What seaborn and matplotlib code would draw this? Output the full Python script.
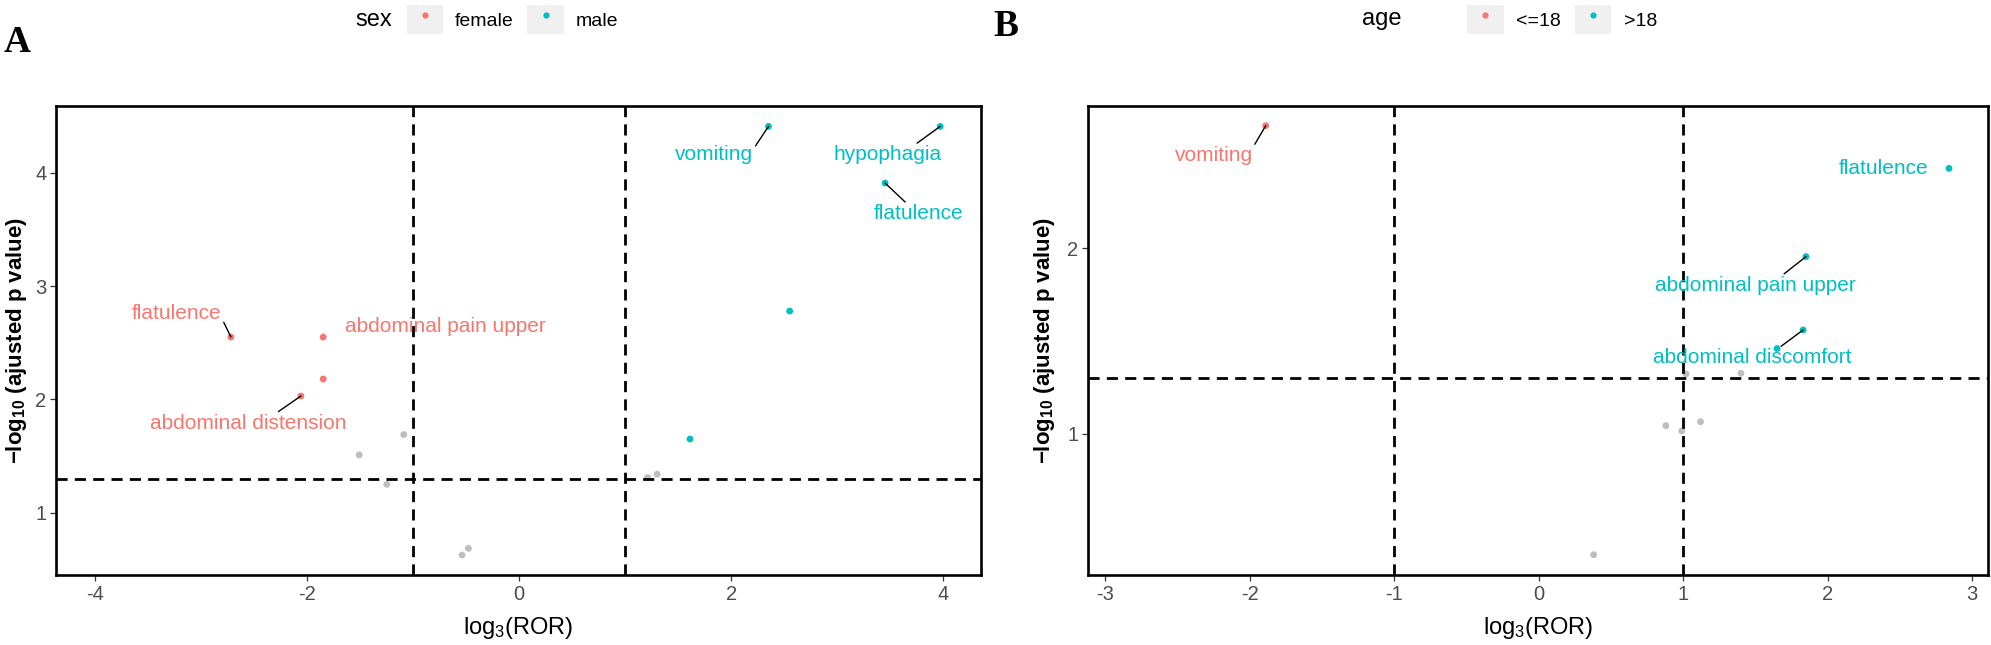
import pandas as pd
import matplotlib
matplotlib.use("Agg")
import matplotlib.pyplot as plt
import seaborn as sns
from matplotlib.patches import Rectangle
from matplotlib.lines import Line2D
from matplotlib.legend_handler import HandlerTuple

# ---- panel A: stratified by sex ----
sex_x = [-2.72, -1.85, -1.85, -2.06, -1.09, -1.51, -1.25, -0.48, -0.54,
         1.21, 1.30, 1.61, 2.55, 2.35, 3.97, 3.45]
sex_y = [2.55, 2.55, 2.18, 2.03, 1.69, 1.51, 1.25, 0.685, 0.626,
         1.31, 1.34, 1.65, 2.78, 4.41, 4.41, 3.91]
sex_group = ["female", "female", "female", "female", "ns", "ns", "ns", "ns", "ns",
             "ns", "ns", "male", "male", "male", "male", "male"]
sex_term = ["flatulence", "abdominal pain upper", "", "abdominal distension", "", "", "", "", "",
            "", "", "", "", "vomiting", "hypophagia", "flatulence"]

# ---- panel B: stratified by age ----
age_x = [-1.89, 2.84, 1.85, 1.83, 1.65, 1.02, 1.40, 0.88, 0.99, 1.12, 0.38]
age_y = [2.66, 2.43, 1.955, 1.56, 1.46, 1.323, 1.327, 1.045, 1.016, 1.066, 0.35]
age_group = ["<=18", ">18", ">18", ">18", ">18", "ns", "ns", "ns", "ns", "ns", "ns"]
age_term = ["vomiting", "flatulence", "abdominal pain upper", "abdominal discomfort",
            "", "", "", "", "", "", ""]

# thresholds
fc_cut = 1
p_cut = 1.301

# label placement (repel-like): index -> (dx, dy, relpos or None for no segment)
sex_label_pos = {0: (-0.51, 0.21, (1.0, 0.25)), 1: (1.15, 0.09, None),
                 3: (-0.50, -0.24, (0.64, 1.0)), 13: (-0.51, -0.25, (1.0, 0.8)),
                 14: (-0.50, -0.25, (0.75, 1.0)), 15: (0.32, -0.27, (0.37, 1.0))}
age_label_pos = {0: (-0.36, -0.16, (1.0, 0.9)), 1: (-0.455, 0.0, None),
                 2: (-0.35, -0.155, (0.63, 1.0)), 3: (-0.35, -0.15, (0.63, 1.0))}

RED, CYAN, GREY = "#F8766D", "#00BFC4", "#BEBEBE"

sns.set_theme(style="white")
plt.rcParams["font.family"] = ["Liberation Sans", "DejaVu Sans"]
plt.rcParams["mathtext.fontset"] = "custom"
plt.rcParams["mathtext.rm"] = "Liberation Sans"
plt.rcParams["text.color"] = "black"
plt.rcParams["axes.labelcolor"] = "black"
plt.rcParams["axes.unicode_minus"] = False


def volcano(ax, x, y, group, term, label_pos, palette, xlim, ylim, xticks, yticks, ylab_x):
    df = pd.DataFrame({"log3_ror": x, "neglog_p": y, "group": group, "term": term})
    sns.scatterplot(data=df, x="log3_ror", y="neglog_p", hue="group", palette=palette,
                    s=24, edgecolor="none", linewidth=0, legend=False, ax=ax, zorder=2)
    for v in (-fc_cut, fc_cut):
        ax.axvline(v, color="black", lw=2, ls=(0, (4, 2.6)), zorder=3)
    ax.axhline(p_cut, color="black", lw=2, ls=(0, (4, 2.6)), zorder=3)

    for i, (dx, dy, rel) in label_pos.items():
        row = df.iloc[i]
        kw = dict(xy=(row.log3_ror, row.neglog_p),
                  xytext=(row.log3_ror + dx, row.neglog_p + dy),
                  ha="center", va="center", fontsize=15, color=palette[row.group],
                  zorder=4, bbox=dict(boxstyle="square,pad=0.1", fc="none", ec="none"))
        if rel is not None:
            kw["arrowprops"] = dict(arrowstyle="-", color="black", lw=1.0,
                                    shrinkA=0, shrinkB=0, relpos=rel)
        ax.annotate(row.term, **kw)

    ax.set_xlim(*xlim)
    ax.set_ylim(*ylim)
    ax.set_xticks(xticks)
    ax.set_yticks(yticks)
    ax.tick_params(axis="both", which="both", bottom=True, left=True, length=4,
                   width=0.9, color="#333333", labelsize=14.5, labelcolor="#4D4D4D", pad=3)
    for sp in ax.spines.values():
        sp.set_visible(True)
        sp.set_color("black")
        sp.set_linewidth(1.9)
    ax.set_xlabel(r"$\mathregular{log_3(ROR)}$", fontsize=17)
    ax.set_ylabel("\u2212log$_\\mathregular{10}$ (ajusted p value)", fontsize=16,
                  fontweight="bold")
    ax.xaxis.set_label_coords(0.5, -0.112)
    ax.xaxis.label.set_va("center")
    ax.yaxis.set_label_coords(ylab_x, 0.5)
    ax.yaxis.label.set_va("center")


def top_legend(fig, title, levels, palette, title_right, key_left, y, textpad):
    fig.text(title_right, y, title, ha="right", va="center", fontsize=17, color="black")
    handles = []
    for lv in levels:
        bg = Rectangle((0, 0), 1, 1, facecolor="#F0F0F0", edgecolor="none")
        dot = Line2D([], [], marker="o", linestyle="", color=palette[lv],
                     markersize=4.5, markeredgewidth=0)
        handles.append((bg, dot))
    leg = fig.legend(handles, levels, handler_map={tuple: HandlerTuple(ndivide=1, pad=0)},
                     ncol=len(levels), frameon=False, loc="center left",
                     bbox_to_anchor=(key_left, y), borderaxespad=0, borderpad=0,
                     handlelength=1.88, handleheight=1.88, handletextpad=textpad,
                     columnspacing=0.7, fontsize=14, numpoints=1)
    for t in leg.get_texts():
        t.set_color("black")


W, H = 1991, 645
fig = plt.figure(figsize=(W / 100, H / 100), dpi=100)
ax_a = fig.add_axes([56 / W, (H - 575.3) / H, 924.5 / W, 469.3 / H])
ax_b = fig.add_axes([1088 / W, (H - 575.3) / H, 900 / W, 469.3 / H])

volcano(ax_a, sex_x, sex_y, sex_group, sex_term, sex_label_pos,
        {"female": RED, "male": CYAN, "ns": GREY},
        (-4.37, 4.35), (0.447, 4.59), [-4, -2, 0, 2, 4], [1, 2, 3, 4], -0.043)
volcano(ax_b, age_x, age_y, age_group, age_term, age_label_pos,
        {"<=18": RED, ">18": CYAN, "ns": GREY},
        (-3.12, 3.11), (0.239, 2.766), [-3, -2, -1, 0, 1, 2, 3], [1, 2], -0.048)

top_legend(fig, "sex", ["female", "male"], {"female": RED, "male": CYAN},
           392 / W, 406.7 / W, 1 - 19.5 / H, 0.6)
top_legend(fig, "age", ["<=18", ">18"], {"<=18": RED, ">18": CYAN},
           1401.7 / W, 1467 / W, 1 - 19.5 / H, 0.65)

fig.text(17 / W, 1 - 43 / H, "A", family="Liberation Serif", fontweight="bold",
         fontsize=27, ha="center", va="center")
fig.text(1006 / W, 1 - 27 / H, "B", family="Liberation Serif", fontweight="bold",
         fontsize=27, ha="center", va="center")

fig.savefig("out.png", dpi=100)
